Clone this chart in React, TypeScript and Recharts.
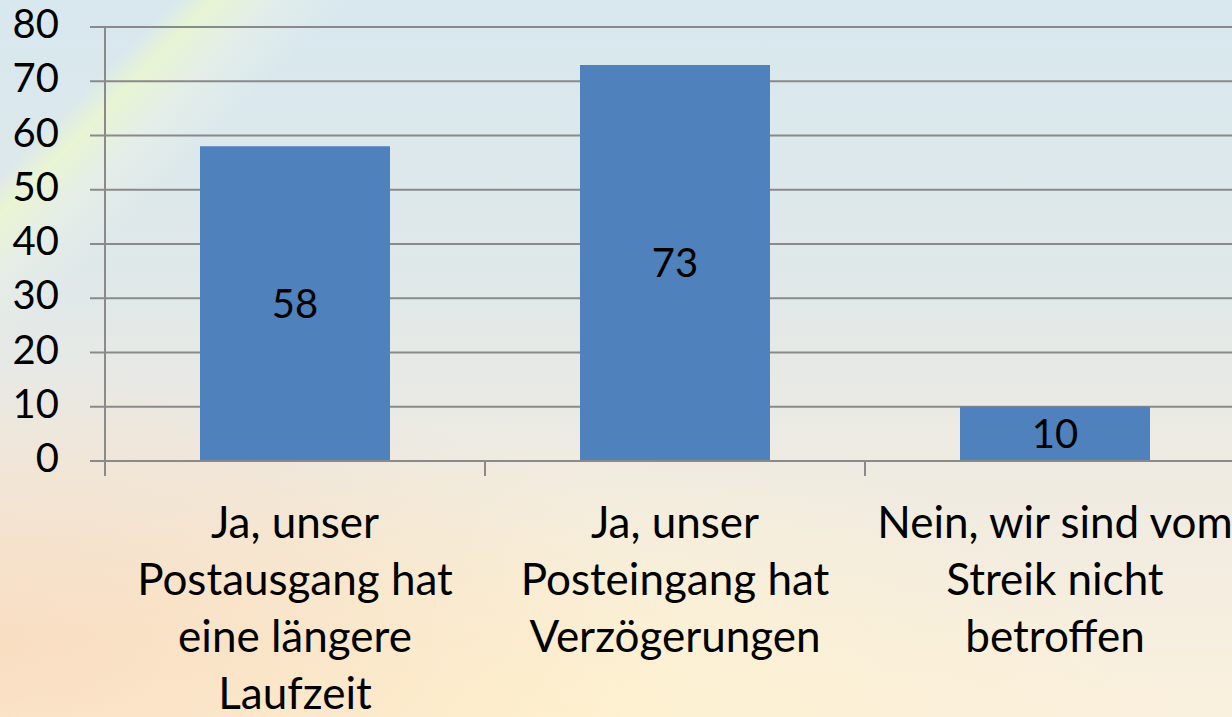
import { BarChart, Bar, XAxis, YAxis, CartesianGrid, LabelList } from "recharts";

const categories = [
    "Ja, unser\nPostausgang hat\neine längere\nLaufzeit",
    "Ja, unser\nPosteingang hat\nVerzögerungen",
    "Nein, wir sind vom\nStreik nicht\nbetroffen",
];
const values = [58, 73, 10];
const yTicks = [0, 10, 20, 30, 40, 50, 60, 70, 80];

const data = categories.map((name, i) => ({ name, value: values[i] }));

const GRID = "#8a8a8a";
const HALF_BAND = 190;

// category labels wrap on fixed lines, plus the boundary tick mark left of each band
function CategoryTick(props: any) {
    const { x, y, payload } = props;
    const lines = String(payload.value).split("\n");
    return (
        <g>
            <line x1={x - HALF_BAND} y1={y} x2={x - HALF_BAND} y2={y + 15} stroke={GRID} strokeWidth={2} />
            <text x={x} y={y + 77} textAnchor="middle" fontSize={44} fill="#000">
                {lines.map((l, i) => (
                    <tspan key={i} x={x} dy={i === 0 ? 0 : 57}>{l}</tspan>
                ))}
            </text>
        </g>
    );
}

export default function App() {
    return (
        <div
            style={{
                position: "absolute",
                left: 0,
                top: 0,
                width: 1232,
                height: 717,
                overflow: "hidden",
                fontFamily: "Lato",
                background: [
                    "linear-gradient(135deg, transparent 9%, rgba(238,250,200,0.7) 11%, rgba(245,248,225,0.35) 14%, transparent 18%)",
                    "radial-gradient(ellipse 55% 40% at 0% 90%, rgba(250,210,175,0.6), rgba(250,215,180,0) 100%)",
                    "radial-gradient(ellipse 50% 40% at 45% 100%, rgba(255,242,205,0.8), rgba(255,240,200,0) 100%)",
                    "linear-gradient(to bottom, #d8e8ef 0%, #e0e8e9 40%, #efebe2 66%, #faf0dd 100%)",
                ].join(", "),
            }}
        >
            <BarChart
                width={1250}
                height={717}
                data={data}
                margin={{ top: 27, right: 5, left: 0, bottom: 0 }}
                barCategoryGap="25%"
            >
                <CartesianGrid vertical={false} stroke={GRID} strokeWidth={2} />
                <XAxis
                    dataKey="name"
                    height={256}
                    axisLine={{ stroke: GRID, strokeWidth: 2 }}
                    tickLine={false}
                    tickSize={0}
                    tickMargin={0}
                    interval={0}
                    tick={<CategoryTick />}
                />
                <YAxis
                    type="number"
                    domain={[0, 80]}
                    ticks={yTicks}
                    width={105}
                    axisLine={{ stroke: GRID, strokeWidth: 2 }}
                    tickLine={{ stroke: GRID, strokeWidth: 2 }}
                    tickSize={15}
                    tickMargin={31}
                    tick={{ fontSize: 40, fill: "#000", dy: -3 }}
                />
                <Bar dataKey="value" fill="#4f81bd" isAnimationActive={false}>
                    <LabelList dataKey="value" position="center" fill="#000" fontSize={40} />
                </Bar>
            </BarChart>
        </div>
    );
}
